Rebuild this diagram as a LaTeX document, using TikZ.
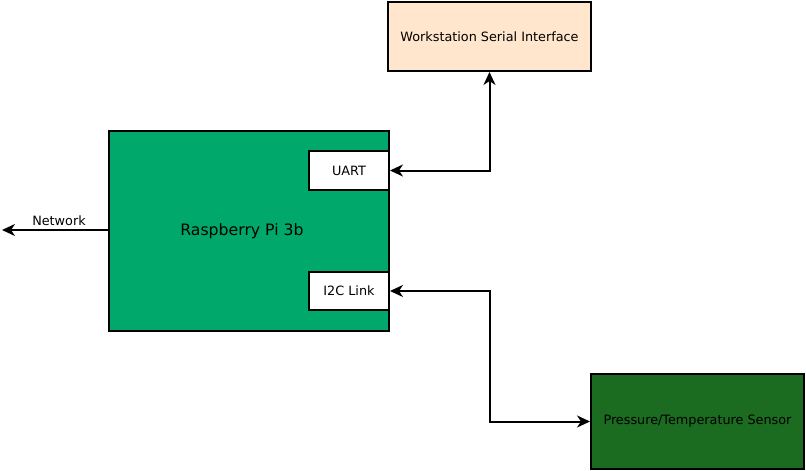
\documentclass[tikz,border=0pt]{standalone}
\usepackage{fontspec}
\setmainfont{DejaVu Sans}
\usetikzlibrary{arrows.meta,calc}

\definecolor{wsfill}{RGB}{255,230,204}
\definecolor{pifill}{RGB}{0,168,107}
\definecolor{sensorfill}{RGB}{27,107,33}

\tikzset{
	box/.style={draw, line width=2pt, inner sep=0pt, font=\fontsize{12.8}{15}\selectfont},
	tip/.style={line width=2pt, arrows={-{Stealth[length=13pt,width=12pt,inset=4pt]}}},
	link/.style={line width=2pt, {Stealth[length=13pt,width=12pt,inset=4pt]}-{Stealth[length=13pt,width=12pt,inset=4pt]}}
}

\begin{document}
\begin{tikzpicture}[x=1pt, y=-1pt]
		\useasboundingbox (0,0) rectangle (806,471);

		\node[box, fill=wsfill, minimum width=203pt, minimum height=69pt] (ws) at (489.5,36.5) {Workstation Serial Interface};
		\node[box, fill=pifill, minimum width=280pt, minimum height=200pt,
			label={[xshift=-7pt, font=\fontsize{15.7}{18}\selectfont]center:Raspberry Pi 3b}] (pi) at (249,231) {};
		\node[box, fill=white, minimum width=80pt, minimum height=39pt] (uart) at (349,170.5) {UART};
		\node[box, fill=white, minimum width=80pt, minimum height=38pt] (i2c) at (349,291) {I2C Link};
		\node[box, fill=sensorfill, minimum width=213pt, minimum height=95pt] (sensor) at (697.5,421.5) {Pressure/Temperature Sensor};

		\coordinate (net) at (2,230);

		\draw[tip] (pi.west |- net) -- (net)
			node[midway, above, xshift=4pt, font=\fontsize{12.8}{15}\selectfont] {Network};
		\draw[link] (ws.south) |- (uart.east);
		\draw[link] (i2c.east) -| ($(i2c.east)!0.5!(sensor.west)$) |- (sensor.west);
	\end{tikzpicture}
\end{document}
